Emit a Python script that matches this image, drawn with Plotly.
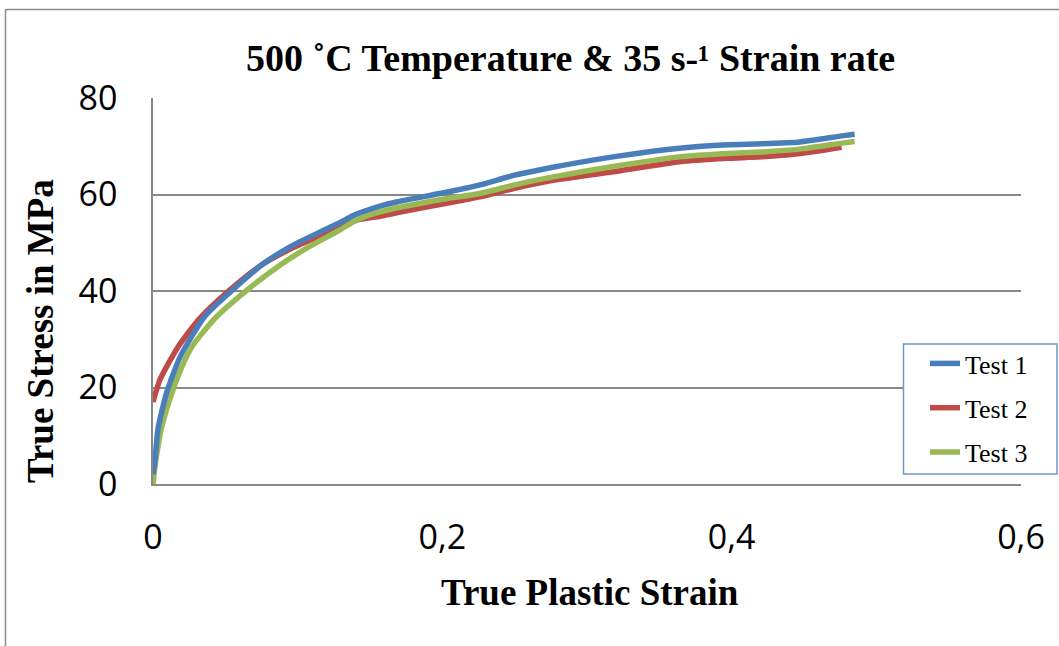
import plotly.graph_objects as go

# ---- data ----
test1_strain = [0, 0.0014, 0.0035, 0.0095, 0.019, 0.036, 0.055, 0.076, 0.095, 0.118, 0.13, 0.138,
                0.157, 0.169, 0.2, 0.226, 0.25, 0.272, 0.318, 0.364, 0.397, 0.42, 0.447, 0.475, 0.485]
test1_stress = [2, 5, 11.5, 19, 26.5, 34.8, 40.2, 45.6, 49.2, 52.6, 54.3, 55.6,
                57.6, 58.5, 60.3, 62, 64, 65.4, 67.8, 69.6, 70.3, 70.5, 70.9, 72.1, 72.5]

test2_strain = [0, 0.0048, 0.0175, 0.0325, 0.053, 0.075, 0.097, 0.122, 0.14, 0.157, 0.17,
                0.2, 0.226, 0.25, 0.272, 0.318, 0.364, 0.397, 0.42, 0.447, 0.476]
test2_stress = [17, 21.6, 28.5, 34.4, 40.2, 45.4, 49, 52.3, 54.6, 55.5, 56.3,
                58, 59.5, 61.3, 62.7, 64.7, 66.8, 67.5, 67.8, 68.5, 69.8]

test3_strain = [0, 0.002, 0.006, 0.013, 0.021, 0.027, 0.043, 0.065, 0.088, 0.108, 0.129, 0.14,
                0.157, 0.2, 0.226, 0.25, 0.272, 0.318, 0.364, 0.397, 0.42, 0.447, 0.475, 0.485]
test3_stress = [0, 5, 11.8, 18.8, 25, 28.5, 34.4, 40.2, 45.4, 49.2, 52.6, 54.6,
                56.4, 59, 60.2, 62, 63.4, 65.8, 67.8, 68.5, 68.8, 69.4, 70.6, 71]

x_ticks = [0, 0.2, 0.4, 0.6]
y_ticks = [0, 20, 40, 60, 80]

title_text = "<b>500 ˚C Temperature &amp; 35 s-¹ Strain rate</b>"
x_title = "<b>True Plastic Strain</b>"
y_title = "<b>True Stress in MPa</b>"

BLUE = "#4A7EBB"
RED = "#BE4B48"
GREEN = "#98B954"
GRID = "#888888"
SERIF = "Liberation Serif, Times New Roman, serif"
SANS = "Open Sans, sans-serif"

fig = go.Figure()
series = [
    ("Test 2", test2_strain, test2_stress, RED, 2),
    ("Test 3", test3_strain, test3_stress, GREEN, 3),
    ("Test 1", test1_strain, test1_stress, BLUE, 1),
]
for name, xs, ys, col, rank in series:
    fig.add_trace(go.Scatter(
        x=xs, y=ys, mode="lines", name=name, legendrank=rank, legendgroup=name,
        line=dict(color=col, width=5.5, shape="spline", smoothing=0.6),
    ))

W, H = 1059, 646
L, R, T, B = 153, 38, 98, 162
pw, ph = W - L - R, H - T - B

def px(xp):
    return (xp - L) / pw

def py(yp):
    return (H - B - yp) / ph

fig.update_layout(
    width=W, height=H,
    margin=dict(l=L, r=R, t=T, b=B, pad=0),
    paper_bgcolor="white", plot_bgcolor="white",
    separators=", ",
    showlegend=True,
    legend=dict(
        x=px(925), y=py(340), xanchor="left", yanchor="top",
        bgcolor="rgba(0,0,0,0)", borderwidth=0,
        font=dict(family=SERIF, size=26, color="black"),
        tracegroupgap=7.5, traceorder="grouped",
    ),
    xaxis=dict(
        range=[0, 0.6], tickvals=x_ticks, showgrid=False, zeroline=False,
        showline=True, linecolor=GRID, linewidth=1.5, ticks="",
        tickfont=dict(family=SANS, size=34, color="black"),
        ticklabelstandoff=22,
    ),
    yaxis=dict(
        range=[0, 80], tickvals=y_ticks, showgrid=True, gridcolor=GRID, gridwidth=1.5,
        zeroline=False, showline=True, linecolor=GRID, linewidth=1.5, ticks="",
        tickfont=dict(family=SANS, size=34, color="black"),
        ticklabelstandoff=27,
    ),
    annotations=[
        dict(text=title_text, x=px(570), y=py(58), xref="paper", yref="paper",
             xanchor="center", yanchor="middle", showarrow=False,
             font=dict(family=SERIF, size=38, color="black")),
        dict(text=x_title, x=px(590), y=py(592), xref="paper", yref="paper",
             xanchor="center", yanchor="middle", showarrow=False,
             font=dict(family=SERIF, size=37, color="black")),
        dict(text=y_title, x=px(40), y=py(331), xref="paper", yref="paper",
             xanchor="center", yanchor="middle", showarrow=False, textangle=-90,
             font=dict(family=SERIF, size=37, color="black")),
    ],
    shapes=[
        dict(type="line", xref="paper", yref="paper", x0=px(5.5), x1=px(1075),
             y0=py(9.5), y1=py(9.5), line=dict(color="#8C8C8C", width=1.5)),
        dict(type="line", xref="paper", yref="paper", x0=px(5.5), x1=px(5.5),
             y0=py(9.5), y1=py(670), line=dict(color="#8C8C8C", width=1.5)),
        dict(type="rect", xref="paper", yref="paper", layer="above",
             x0=px(903.5), x1=px(1057), y0=py(474), y1=py(344),
             fillcolor="white", line=dict(color="#6F97CF", width=1.5)),
    ],
)

fig.write_html("out.html", config={"displayModeBar": False},
               post_script="document.body.style.margin='0';")
